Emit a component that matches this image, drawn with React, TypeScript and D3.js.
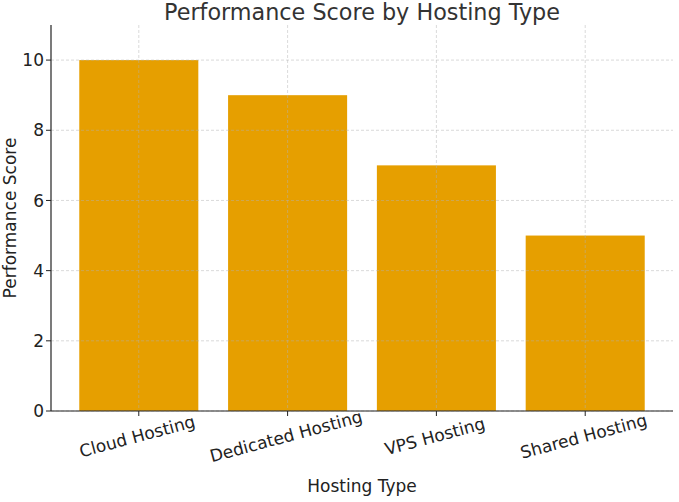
import React from "react";
import * as d3 from "d3";

const categories = ["Cloud Hosting", "Dedicated Hosting", "VPS Hosting", "Shared Hosting"];
const scores = [10, 9, 7, 5];
const yTicks = [0, 2, 4, 6, 8, 10];

const W = 679;
const H = 502;
const left = 51;
const right = 673;
const top = 25;
const bottom = 411;
const font = "DejaVu Sans, sans-serif";

export default function App() {
  const x = d3.scaleLinear().domain([-0.59, 3.59]).range([left, right]);
  const y = d3.scaleLinear().domain([0, 11]).range([bottom, top]);
  const bw = x(0.4) - x(-0.4);
  return (
    <svg width={W} height={H} style={{ position: "absolute", left: 0, top: 0 }}>
      <rect width={W} height={H} fill="#fff" />
      {categories.map((c, i) => (
        <rect key={c} x={x(i) - bw / 2} y={y(scores[i])} width={bw} height={y(0) - y(scores[i])} fill="#E69F00" />
      ))}
      {yTicks.map((t) => (
        <line key={"gy" + t} x1={left} x2={right} y1={y(t)} y2={y(t)} stroke="#b0b0b0" strokeOpacity={0.6} strokeWidth={0.8} strokeDasharray="3,2" />
      ))}
      {categories.map((c, i) => (
        <line key={"gx" + c} x1={x(i)} x2={x(i)} y1={top} y2={bottom} stroke="#b0b0b0" strokeOpacity={0.6} strokeWidth={0.8} strokeDasharray="3,2" />
      ))}
      <line x1={left} x2={left} y1={top} y2={bottom} stroke="#222" strokeWidth={1.2} />
      <line x1={left} x2={right} y1={bottom} y2={bottom} stroke="#222" strokeWidth={1.2} />
      {yTicks.map((t) => (
        <g key={"ty" + t}>
          <line x1={left - 5} x2={left} y1={y(t)} y2={y(t)} stroke="#222" />
          <text x={left - 7} y={y(t)} dy="0.36em" textAnchor="end" fontFamily={font} fontSize={17} fill="#222">{t}</text>
        </g>
      ))}
      {categories.map((c, i) => (
        <g key={"tx" + c}>
          <line x1={x(i)} x2={x(i)} y1={bottom} y2={bottom + 5} stroke="#222" />
          <text transform={`translate(${x(i)},${bottom + 31}) rotate(-15)`} textAnchor="middle" fontFamily={font} fontSize={17} fill="#222">{c}</text>
        </g>
      ))}
      <text x={(left + right) / 2} y={19.5} textAnchor="middle" fontFamily={font} fontSize={22.3} fill="#333">Performance Score by Hosting Type</text>
      <text x={(left + right) / 2} y={492} textAnchor="middle" fontFamily={font} fontSize={17} fill="#222">Hosting Type</text>
      <text transform={`translate(16,${(top + bottom) / 2}) rotate(-90)`} textAnchor="middle" fontFamily={font} fontSize={17} fill="#222">Performance Score</text>
    </svg>
  );
}
